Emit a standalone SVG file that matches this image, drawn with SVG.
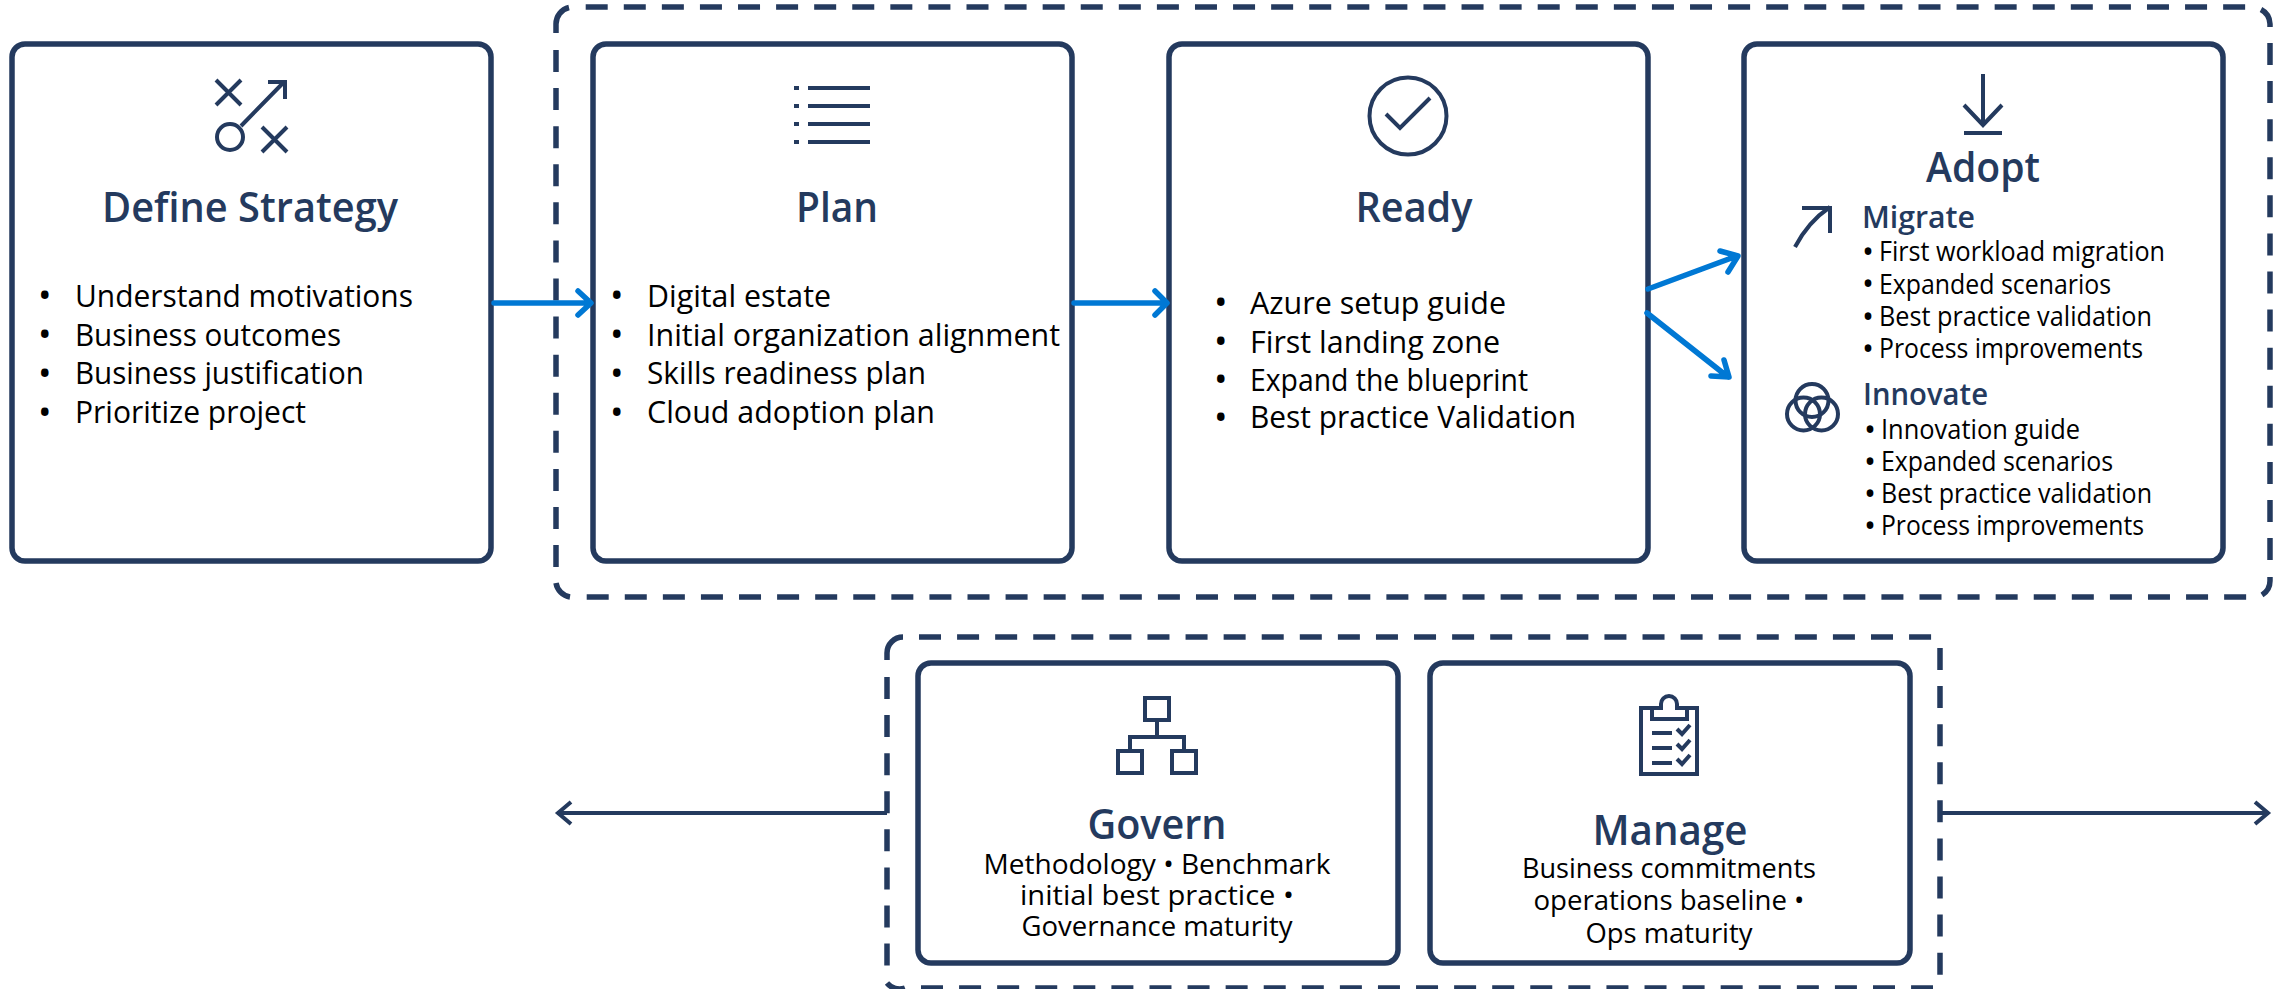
<svg xmlns="http://www.w3.org/2000/svg" width="2295" height="989" viewBox="0 0 2295 989">
<style>
text{font-family:"Open Sans","Noto Sans","Liberation Sans",sans-serif;fill:#000}
.b{font-size:31.5px}.s{font-size:27px}.m{font-size:27.5px;text-anchor:middle}
.d{font-size:36px}.e{font-size:32px}
.t{font-size:42px;font-weight:600;fill:#243a5e;text-anchor:middle}
.h{font-size:31px;font-weight:600;fill:#243a5e}
.box{fill:#fff;stroke:#243a5e;stroke-width:5.5}
.dash{fill:none;stroke:#243a5e;stroke-width:5.5;stroke-dasharray:22 16.08}
.cor{fill:none;stroke:#243a5e;stroke-width:5.5}
.ic{fill:none;stroke:#243a5e;stroke-width:4}
.blue{fill:none;stroke:#0078d4;stroke-width:5.5;stroke-linecap:round;stroke-linejoin:round}
.dk{fill:none;stroke:#243a5e;stroke-width:4}
</style>
<rect width="2295" height="989" fill="#fff"/>
<g id="group-adoption">
<path class="dash" d="M585.700 7H2246M586.700 597H2247M556 50V568M2270 43V561"/>
<path class="cor" d="M556 33V24A17 17 0 0 1 569 7.500M2261 9.500A17 17 0 0 1 2270 24V27M556 583A17 17 0 0 0 570 597M2270 577V580A17 17 0 0 1 2262 595"/>
</g>
<g id="group-operations">
<path class="dash" d="M919 637H1932M921 988H1933M887 677V966M1940 648V975"/>
<path class="cor" d="M887 660V653A16 16 0 0 1 903 637M887 983A16 16 0 0 0 905 988"/>
</g>
<g id="define-strategy">
<rect class="box" x="12" y="44" width="479" height="517" rx="13"/>
<path class="ic" d="M216 80L241 105M241 80L216 105M262 127L287 152M287 127L262 152M241 126L284 82M268 82H285V99"/><circle class="ic" cx="230" cy="137" r="13"/>
<text class="t" x="250" y="222" textLength="296" lengthAdjust="spacingAndGlyphs">Define Strategy</text>
<text class="d" x="38" y="308">•</text><text class="d" x="38" y="347">•</text><text class="d" x="38" y="386">•</text><text class="d" x="38" y="425">•</text>
<text class="b" x="75" y="307" textLength="338" lengthAdjust="spacingAndGlyphs">Understand motivations</text>
<text class="b" x="75" y="346" textLength="266" lengthAdjust="spacingAndGlyphs">Business outcomes</text>
<text class="b" x="75" y="384" textLength="289" lengthAdjust="spacingAndGlyphs">Business justification</text>
<text class="b" x="75" y="423" textLength="231" lengthAdjust="spacingAndGlyphs">Prioritize project</text>
</g>
<g id="plan">
<rect class="box" x="593" y="44" width="479" height="517" rx="13"/>
<path class="ic" d="M808 88H870M808 106H870M808 124H870M808 142H870M794 88H799M794 106H799M794 124H799M794 142H799"/>
<text class="t" x="837" y="222" textLength="82" lengthAdjust="spacingAndGlyphs">Plan</text>
<text class="d" x="610" y="308">•</text><text class="d" x="610" y="347">•</text><text class="d" x="610" y="386">•</text><text class="d" x="610" y="425">•</text>
<text class="b" x="647" y="307" textLength="184" lengthAdjust="spacingAndGlyphs">Digital estate</text>
<text class="b" x="647" y="346" textLength="413" lengthAdjust="spacingAndGlyphs">Initial organization alignment</text>
<text class="b" x="647" y="384" textLength="279" lengthAdjust="spacingAndGlyphs">Skills readiness plan</text>
<text class="b" x="647" y="423" textLength="288" lengthAdjust="spacingAndGlyphs">Cloud adoption plan</text>
</g>
<g id="ready">
<rect class="box" x="1169" y="44" width="479" height="517" rx="13"/>
<circle class="ic" cx="1408" cy="116" r="38.5"/><path class="ic" d="M1386 114L1400 128L1430 98"/>
<text class="t" x="1414" y="222" textLength="117" lengthAdjust="spacingAndGlyphs">Ready</text>
<text class="d" x="1214" y="315">•</text><text class="d" x="1214" y="354">•</text><text class="d" x="1214" y="392">•</text><text class="d" x="1214" y="430">•</text>
<text class="b" x="1250" y="314" textLength="256" lengthAdjust="spacingAndGlyphs">Azure setup guide</text>
<text class="b" x="1250" y="353" textLength="250" lengthAdjust="spacingAndGlyphs">First landing zone</text>
<text class="b" x="1250" y="391" textLength="278" lengthAdjust="spacingAndGlyphs">Expand the blueprint</text>
<text class="b" x="1250" y="428" textLength="326" lengthAdjust="spacingAndGlyphs">Best practice Validation</text>
</g>
<g id="adopt">
<rect class="box" x="1744" y="44" width="479" height="517" rx="13"/>
<path class="ic" d="M1983 74V125M1964 105L1983 125L2002 105M1964 133H2002"/>
<path class="ic" d="M1795 247Q1808 222 1830 207M1802 208H1830V233"/>
<circle class="ic" cx="1812" cy="400.5" r="16.5"/><circle class="ic" cx="1803.500" cy="414" r="16.500"/><circle class="ic" cx="1821.500" cy="414" r="16.500"/>
<text class="t" x="1983" y="182" textLength="114" lengthAdjust="spacingAndGlyphs">Adopt</text>
<text class="h" x="1862" y="228" textLength="113" lengthAdjust="spacingAndGlyphs">Migrate</text>
<text class="e" x="1862" y="263">•</text><text class="e" x="1862" y="295">•</text><text class="e" x="1862" y="328">•</text><text class="e" x="1862" y="360">•</text>
<text class="s" x="1879" y="261" textLength="286" lengthAdjust="spacingAndGlyphs">First workload migration</text>
<text class="s" x="1879" y="294" textLength="232" lengthAdjust="spacingAndGlyphs">Expanded scenarios</text>
<text class="s" x="1879" y="326" textLength="273" lengthAdjust="spacingAndGlyphs">Best practice validation</text>
<text class="s" x="1879" y="358" textLength="264" lengthAdjust="spacingAndGlyphs">Process improvements</text>
<text class="h" x="1863" y="405" textLength="125" lengthAdjust="spacingAndGlyphs">Innovate</text>
<text class="e" x="1864" y="441">•</text><text class="e" x="1864" y="473">•</text><text class="e" x="1864" y="505">•</text><text class="e" x="1864" y="537">•</text>
<text class="s" x="1881" y="439" textLength="199" lengthAdjust="spacingAndGlyphs">Innovation guide</text>
<text class="s" x="1881" y="471" textLength="232" lengthAdjust="spacingAndGlyphs">Expanded scenarios</text>
<text class="s" x="1881" y="503" textLength="271" lengthAdjust="spacingAndGlyphs">Best practice validation</text>
<text class="s" x="1881" y="535" textLength="263" lengthAdjust="spacingAndGlyphs">Process improvements</text>
</g>
<g id="govern">
<rect class="box" x="918" y="663" width="480" height="300" rx="13"/>
<path class="ic" d="M1145 698H1169V720H1145ZM1118 751H1142V773H1118ZM1172 751H1196V773H1172ZM1157 720V737M1130 751V737H1184V751"/>
<text class="t" x="1157" y="839" textLength="139" lengthAdjust="spacingAndGlyphs">Govern</text>
<text class="m" x="1157" y="874" textLength="347" lengthAdjust="spacingAndGlyphs">Methodology • Benchmark</text>
<text class="m" x="1157" y="905" textLength="274" lengthAdjust="spacingAndGlyphs">initial best practice •</text>
<text class="m" x="1157" y="936" textLength="271" lengthAdjust="spacingAndGlyphs">Governance maturity</text>
</g>
<g id="manage">
<rect class="box" x="1430" y="663" width="480" height="300" rx="13"/>
<path class="ic" d="M1641 708H1661V704A8 8 0 0 1 1677 704V708H1697V774H1641ZM1652 708V719H1687V708M1652 733H1672M1652 748H1672M1652 763H1672"/>
<path class="ic" d="M1677 729L1682 734L1690 725M1677 744L1682 749L1690 740M1677 759L1682 764L1690 755"/>
<text class="t" x="1670" y="845" textLength="155" lengthAdjust="spacingAndGlyphs">Manage</text>
<text class="m" x="1669" y="878" textLength="294" lengthAdjust="spacingAndGlyphs">Business commitments</text>
<text class="m" x="1669" y="910" textLength="271" lengthAdjust="spacingAndGlyphs">operations baseline •</text>
<text class="m" x="1669" y="943" textLength="167" lengthAdjust="spacingAndGlyphs">Ops maturity</text>
</g>
<g id="connectors">
<path class="blue" d="M494 303H590M578 291L591 303L578 315"/>
<path class="blue" d="M1074 303H1165M1155 291L1167 303L1155 315"/>
<path class="blue" d="M1648 289L1737 256M1720 251L1738 256L1728 272"/>
<path class="blue" d="M1647 313L1728 377M1724 360L1729 377L1711 376"/>
<path class="dk" d="M887 813H558M571 802L558 813L571 824"/>
<path class="dk" d="M1940 813H2268M2255 802L2268 813L2255 824"/>
</g>
</svg>
